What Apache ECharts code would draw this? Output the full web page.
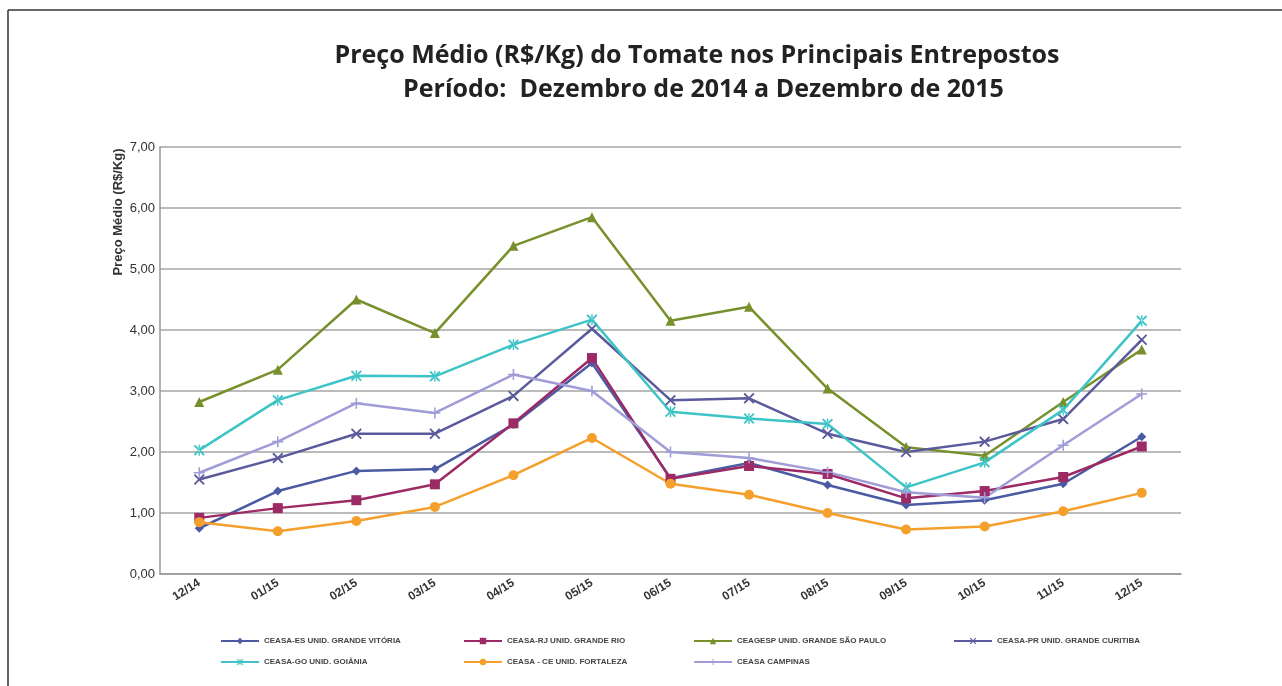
<!DOCTYPE html>
<html>
<head>
<meta charset="utf-8">
<script src="https://cdn.jsdelivr.net/npm/echarts@6/dist/echarts.min.js"></script>
<style>
html,body{margin:0;padding:0;background:#fff;}
#chart{width:1282px;height:686px;}
</style>
</head>
<body>
<div id="chart"></div>
<script>
var meses = ['12/14','01/15','02/15','03/15','04/15','05/15','06/15','07/15','08/15','09/15','10/15','11/15','12/15'];

// valores (R$/Kg)
var vitoria   = [0.75, 1.36, 1.69, 1.72, 2.45, 3.46, 1.57, 1.82, 1.46, 1.13, 1.21, 1.48, 2.25];
var rio       = [0.92, 1.08, 1.21, 1.47, 2.47, 3.54, 1.56, 1.77, 1.64, 1.24, 1.36, 1.59, 2.09];
var saoPaulo  = [2.82, 3.35, 4.50, 3.95, 5.38, 5.85, 4.15, 4.38, 3.04, 2.08, 1.94, 2.82, 3.68];
var curitiba  = [1.55, 1.90, 2.30, 2.30, 2.92, 4.02, 2.85, 2.88, 2.30, 2.00, 2.17, 2.54, 3.84];
var goiania   = [2.03, 2.85, 3.25, 3.24, 3.76, 4.17, 2.66, 2.55, 2.46, 1.42, 1.83, 2.69, 4.15];
var fortaleza = [0.85, 0.70, 0.87, 1.10, 1.62, 2.23, 1.48, 1.30, 1.00, 0.73, 0.78, 1.03, 1.33];
var campinas  = [1.66, 2.17, 2.80, 2.64, 3.27, 3.00, 2.00, 1.90, 1.67, 1.34, 1.25, 2.11, 2.95];

var yTicks = [0, 1, 2, 3, 4, 5, 6, 7];

var nomes = ['CEASA-ES UNID. GRANDE VITÓRIA','CEASA-RJ UNID. GRANDE RIO','CEAGESP UNID. GRANDE SÃO PAULO','CEASA-PR UNID. GRANDE CURITIBA',
             'CEASA-GO UNID. GOIÂNIA','CEASA - CE UNID. FORTALEZA','CEASA CAMPINAS'];

var xSym = 'path://M0,1.2 L1.2,0 L5,3.8 L8.8,0 L10,1.2 L6.2,5 L10,8.8 L8.8,10 L5,6.2 L1.2,10 L0,8.8 L3.8,5 Z';
var starSym = 'path://M0,1.2 L1.2,0 L5,3.8 L8.8,0 L10,1.2 L6.2,5 L10,8.8 L8.8,10 L5,6.2 L1.2,10 L0,8.8 L3.8,5 Z M4.4,0 L4.4,10 L5.6,10 L5.6,0 Z';
var plusSym = 'path://M4.3,0 H5.7 V4.3 H10 V5.7 H5.7 V10 H4.3 V5.7 H0 V4.3 H4.3 Z';

function serie(nome, dados, cor, simbolo, tam){
    return {
        name: nome,
        type: 'line',
        data: dados,
        symbol: simbolo,
        symbolSize: tam,
        showAllSymbol: true,
        lineStyle: {width: 2.5, color: cor},
        itemStyle: {color: cor},
        emphasis: {disabled: true}
    };
}

var legendaBase = {
    orient: 'vertical',
    top: 632,
    itemWidth: 38,
    itemHeight: 8,
    itemGap: 13,
    textStyle: {fontSize: 8, fontWeight: 'bold', color: '#444', fontFamily: 'Liberation Sans Narrow, Liberation Sans, sans-serif'}
};

var myChart = echarts.init(document.getElementById('chart'));
myChart.setOption({
    animation: false,
    backgroundColor: '#fff',
    title: {
        text: 'Preço Médio (R$/Kg) do Tomate nos Principais Entrepostos\n  Período:  Dezembro de 2014 a Dezembro de 2015',
        left: 692,
        textAlign: 'center',
        top: 34,
        textStyle: {fontSize: 25, fontWeight: 'bold', color: '#222', lineHeight: 34, fontFamily: 'Open Sans, sans-serif'}
    },
    legend: [
        $extend({left: 215, data: [nomes[0], nomes[4]]}),
        $extend({left: 458, data: [nomes[1], nomes[5]]}),
        $extend({left: 688, data: [nomes[2], nomes[6]]}),
        $extend({left: 948, data: [nomes[3]]})
    ],
    grid: {left: 160, right: 101, top: 147, bottom: 112},
    xAxis: {
        type: 'category',
        data: meses,
        boundaryGap: true,
        axisLine: {lineStyle: {color: '#999', width: 1.5}},
        axisTick: {show: false},
        axisLabel: {rotate: 32, color: '#333', fontSize: 12, fontWeight: 'bold', margin: 8, fontFamily: 'Liberation Sans, sans-serif'}
    },
    yAxis: {
        type: 'value',
        min: yTicks[0],
        max: yTicks[yTicks.length - 1],
        interval: 1,
        axisLine: {show: true, lineStyle: {color: '#999', width: 1.5}},
        axisTick: {show: false},
        splitLine: {lineStyle: {color: '#BBB', width: 2}},
        axisLabel: {
            color: '#333', fontSize: 13, margin: 5, fontFamily: 'Liberation Sans, sans-serif',
            formatter: function(v){ return v.toFixed(2).replace('.', ','); }
        }
    },
    graphic: [
        {type: 'text', x: 118, y: 212, rotation: Math.PI / 2,
         style: {text: 'Preço Médio (R$/Kg)', fontSize: 13, fontWeight: 'bold', fill: '#333',
                 align: 'center', verticalAlign: 'middle', fontFamily: 'Liberation Sans Narrow, Liberation Sans, sans-serif'}},
        {type: 'line', shape: {x1: 8, y1: 10, x2: 1282, y2: 10}, style: {stroke: '#333', lineWidth: 1.5}},
        {type: 'line', shape: {x1: 8, y1: 10, x2: 8, y2: 686}, style: {stroke: '#333', lineWidth: 1.5}}
    ],
    series: [
        serie(nomes[0], vitoria, '#4B5BA3', 'diamond', 9),
        serie(nomes[1], rio, '#9C2B65', 'rect', 10),
        serie(nomes[2], saoPaulo, '#77902B', 'triangle', 10),
        serie(nomes[3], curitiba, '#5B5A9C', xSym, 11),
        serie(nomes[4], goiania, '#3EC4C6', starSym, 11),
        serie(nomes[5], fortaleza, '#F5A02C', 'circle', 10),
        serie(nomes[6], campinas, '#A09CD8', plusSym, 11)
    ]
});

function $extend(o){
    var r = {};
    for (var k in legendaBase) r[k] = legendaBase[k];
    for (var j in o) r[j] = o[j];
    return r;
}
</script>
</body>
</html>
